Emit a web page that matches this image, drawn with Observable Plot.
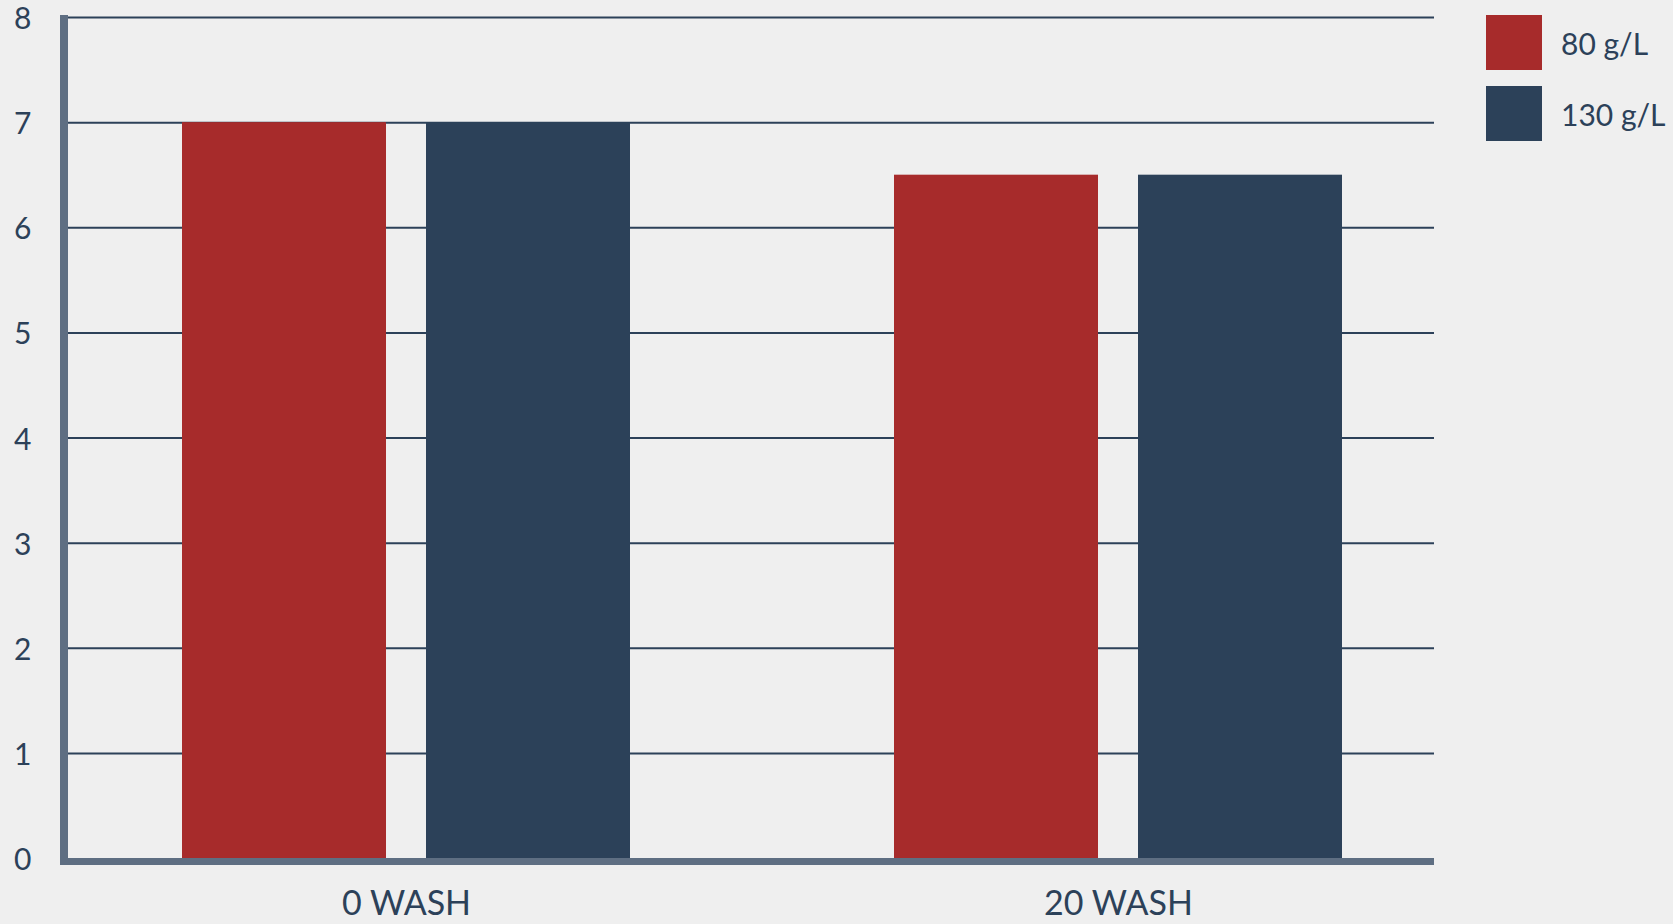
<!DOCTYPE html>
<html>
<head>
<meta charset="utf-8">
<script src="https://cdn.jsdelivr.net/npm/d3@7"></script>
<script src="https://cdn.jsdelivr.net/npm/@observablehq/plot@0.6"></script>
<style>
  html, body { margin: 0; padding: 0; background: #efefef; }
  #wrap { position: relative; width: 1673px; height: 924px; overflow: hidden; font-family: Lato, "Open Sans", sans-serif; color: #2c4159; }
  #legend { position: absolute; left: 1486px; top: 15px; }
  .item { display: flex; align-items: center; height: 55px; margin-bottom: 16px; font-size: 30px; }
  .sw { width: 56px; height: 55px; margin-right: 19px; }
</style>
</head>
<body>
<div id="wrap"><div id="legend"></div></div>
<script>
const washes = ["0 WASH", "20 WASH"];
const concentrations = ["80 g/L", "130 g/L"];
const values80 = [7, 6.5];
const values130 = [7, 6.5];
const yTicks = [0, 1, 2, 3, 4, 5, 6, 7, 8];
const colors = ["#a72b2b", "#2c4159"];

const rows80 = washes.map((w, i) => ({wash: w, conc: concentrations[0], value: values80[i]}));
const rows130 = washes.map((w, i) => ({wash: w, conc: concentrations[1], value: values130[i]}));

const axisColor = "#5e6e82";

function axisLines(index, scales, values, dim) {
  const g = d3.create("svg:g");
  const y0 = scales.y(yTicks[0]);
  const yTop = scales.y(yTicks[yTicks.length - 1]);
  g.append("rect")
    .attr("x", dim.marginLeft - 4).attr("width", 8)
    .attr("y", yTop - 2).attr("height", y0 + 7 - (yTop - 2))
    .attr("fill", axisColor);
  g.append("rect")
    .attr("x", dim.marginLeft - 4).attr("width", dim.width - dim.marginRight - dim.marginLeft + 4)
    .attr("y", y0).attr("height", 7)
    .attr("fill", axisColor);
  return g.node();
}

const chart = Plot.plot({
  width: 1673,
  height: 924,
  marginLeft: 64,
  marginRight: 239,
  marginTop: 17,
  marginBottom: 66,
  style: {background: "transparent", fontFamily: "Lato, 'Open Sans', sans-serif", color: "#2c4159"},
  x: {type: "band", domain: washes, paddingInner: 0.3703, paddingOuter: 0.146, align: 0.5625},
  y: {domain: [0, 8]},
  color: {domain: concentrations, range: colors},
  marks: [
    Plot.ruleY(yTicks.slice(1), {stroke: "#2c4159", strokeWidth: 2, insetLeft: 4}),
    Plot.barY(rows80, {x: "wash", y: "value", fill: "conc", insetRight: 244}),
    Plot.barY(rows130, {x: "wash", y: "value", fill: "conc", insetLeft: 244}),
    axisLines,
    Plot.axisY({ticks: yTicks, tickSize: 0, tickPadding: 33, fontSize: 30, dy: 2, tickFormat: d => String(d), label: null}),
    Plot.axisX({tickSize: 0, tickPadding: 32, fontSize: 34, label: null})
  ]
});
document.getElementById("wrap").prepend(chart);

const legend = document.getElementById("legend");
concentrations.forEach((c, i) => {
  const item = document.createElement("div");
  item.className = "item";
  const sw = document.createElement("div");
  sw.className = "sw";
  sw.style.background = colors[i];
  const t = document.createElement("span");
  t.textContent = c;
  item.appendChild(sw);
  item.appendChild(t);
  legend.appendChild(item);
});
</script>
</body>
</html>
